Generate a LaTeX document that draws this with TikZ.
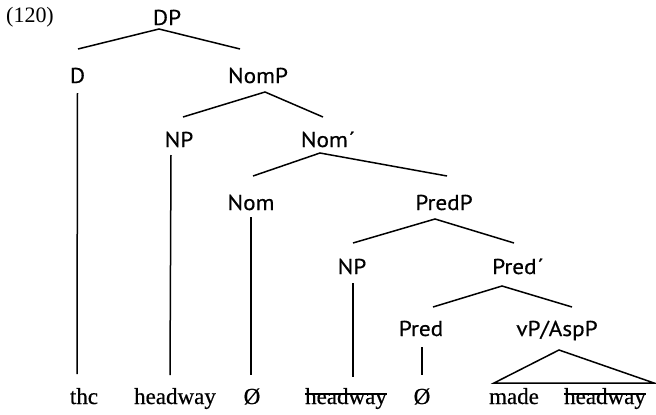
\documentclass[tikz,border=0pt]{standalone}
\usepackage{fontspec}
\setmainfont{Liberation Serif}
\newfontfamily\labelfont{PT Sans}[FakeBold=0.5, FakeStretch=1.08]
\newfontfamily\wordfont{Liberation Serif}[FakeBold=0.6]
\begin{document}
\begin{tikzpicture}[x=1pt,y=-1pt,
  cat/.style={font=\labelfont\fontsize{21.5}{25}\selectfont, anchor=base, inner sep=0pt},
  word/.style={font=\wordfont\fontsize{23}{27}\selectfont, anchor=base, inner sep=0pt},
  exnum/.style={font=\fontsize{22}{26}\selectfont, anchor=base, inner sep=0pt},
  branch/.style={line width=1.5pt},
  strike/.style={line width=1.5pt}]
\useasboundingbox (0,0) rectangle (656,415);

% example number
\node[exnum] (num) at (30,23) {(120)};

% category labels
\node[cat] (dp)    at (167,25)  {DP};
\node[cat] (d)     at (77.5,83) {D};
\node[cat] (nomp)  at (258,83)  {NomP};
\node[cat] (npa)   at (179,147) {NP};
\node[cat] (nombar) at (328,147) {Nom\kern1pt´};
\node[cat] (nom)   at (251,210) {Nom};
\node[cat] (predp) at (444,210) {PredP};
\node[cat] (npb)   at (352,274) {NP};
\node[cat] (predbar) at (518,274) {Pred\kern1pt´};
\node[cat] (pred)  at (421,336) {Pred};
\node[cat] (vp)    at (557,336) {vP/AspP};

% terminal words
\node[word] (the)  at (84,404)  {thc};
\node[word] (hwa)  at (175,404) {headway};
\node[word] (ea)   at (252,404) {Ø};
\node[word] (hwb)  at (346,404) {headway};
\node[word] (eb)   at (422,404) {Ø};
\node[word] (made) at (514,404) {made};
\node[word] (hwc)  at (605,404) {headway};

% binary branches
\draw[branch] ([shift={(0.5,-34)}]d.base) -- ([shift={(-8,4)}]dp.base) -- ([shift={(-18,-34)}]nomp.base);
\draw[branch] ([shift={(4,-30)}]npa.base) -- ([shift={(7,9)}]nomp.base) -- ([shift={(-5,-30)}]nombar.base);
\draw[branch] ([shift={(2,-34)}]nom.base) -- ([shift={(-8,6)}]nombar.base) -- ([shift={(3,-34)}]predp.base);
\draw[branch] ([shift={(1,-31)}]npb.base) -- ([shift={(-9,9)}]predp.base) -- ([shift={(-4,-31)}]predbar.base);
\draw[branch] ([shift={(12,-29)}]pred.base) -- ([shift={(-16,12)}]predbar.base) -- ([shift={(15,-29)}]vp.base);

% unary branches
\draw[branch] ([shift={(0,10)}]d.base) -- ([shift={(-7,-30)}]the.base);
\draw[branch] ([shift={(-8,8)}]npa.base) -- ([shift={(-5,-29)}]hwa.base);
\draw[branch] ([shift={(0,7)}]nom.base) -- ([shift={(-1,-29)}]ea.base);
\draw[branch] ([shift={(1,9)}]npb.base) -- ([shift={(7,-27)}]hwb.base);
\draw[branch] ([shift={(1,11)}]pred.base) -- ([shift={(0,-29)}]eb.base);

% triangle over the vP/AspP material
\draw[branch, line join=miter] ([shift={(-20,-21)}]made.base) -- ([shift={(2,14)}]vp.base) -- ([shift={(49,-21)}]hwc.base) -- cycle;

% struck-out copies
\draw[strike] ([shift={(0,-10)}]hwb.base west) -- ([shift={(0,-10)}]hwb.base east);
\draw[strike] ([shift={(0,-10)}]hwc.base west) -- ([shift={(0,-10)}]hwc.base east);
\end{tikzpicture}
\end{document}
